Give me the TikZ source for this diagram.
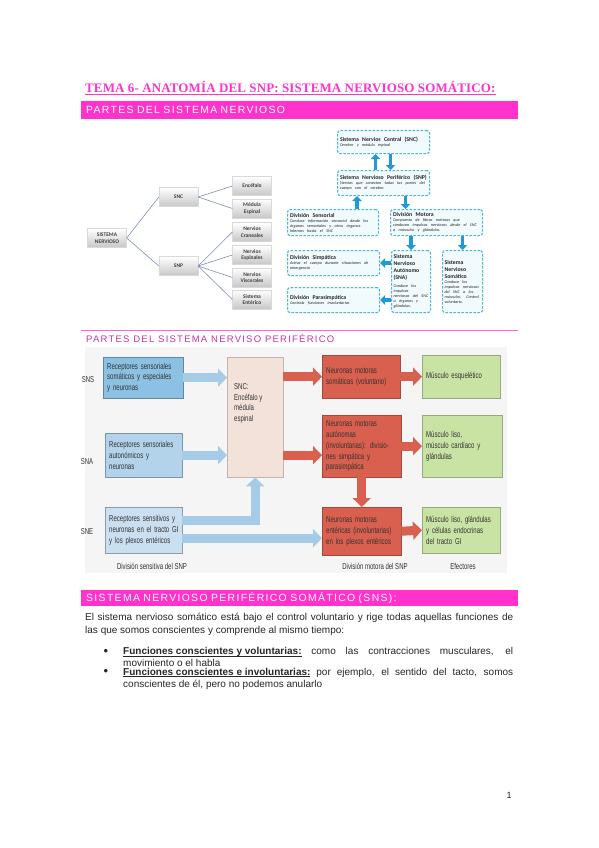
\documentclass[tikz,border=0pt]{standalone}
\usepackage{fontspec}
\setmainfont{Liberation Sans}
\newfontfamily\titlefont{Liberation Serif}
\newfontfamily\calfont{Carlito}
\newfontfamily\narrowfont{Liberation Sans}[FakeStretch=0.7]
\usetikzlibrary{arrows.meta,positioning,shadows}

\definecolor{pinkmain}{HTML}{FF33CC}
\definecolor{pinkdark}{HTML}{C8359F}
\definecolor{pinkline}{HTML}{FF66CC}
\definecolor{fcline}{HTML}{4AB6D6}
\definecolor{fcfill}{HTML}{F1FAFC}
\definecolor{fcarrowc}{HTML}{1F9AD6}
\definecolor{treeedge}{HTML}{7D90B3}
\definecolor{blueA}{HTML}{8CC1E3}
\definecolor{blueB}{HTML}{B3D3EB}
\definecolor{blueC}{HTML}{CADFF0}
\definecolor{arrowblue}{HTML}{A5CBE7}
\definecolor{cnsfill}{HTML}{F2E2DA}
\definecolor{redfill}{HTML}{D9604F}
\definecolor{greenfill}{HTML}{C9E3A5}

\newcommand\headfont{\fontsize{10.4}{12}\selectfont\addfontfeature{LetterSpace=13}}
\newcommand\subheadfont{\fontsize{9.5}{11}\selectfont\addfontfeature{LetterSpace=13}}
\newcommand\snpfont{\narrowfont\fontsize{8.6}{10.8}\selectfont\hyphenpenalty10000\relax}
\newcommand\fctitle[1]{{\bfseries\fontsize{5.8}{7}\selectfont #1\par}}
\newcommand\fcdesc[1]{{\itshape\fontsize{4.2}{5}\selectfont #1\par}}
\newcommand\ulbold[1]{\setbox0\hbox{\bfseries #1}\rlap{\rule[-1.6pt]{\wd0}{0.6pt}}\box0\relax}

\tikzset{
  titletext/.style={anchor=west, inner sep=0pt, text=pinkmain,
    font=\titlefont\bfseries\fontsize{13}{15}\selectfont\addfontfeature{LetterSpace=1}},
  banner/.style={anchor=north west, fill=pinkmain, text=white, minimum width=437pt,
    text width=427pt, inner xsep=5pt, inner ysep=0pt, align=left, font=\headfont},
  subhead/.style={anchor=west, inner sep=0pt, text=pinkdark, font=\subheadfont},
  treebox/.style={rectangle, minimum width=39pt, minimum height=19pt, inner sep=1pt,
    align=center, top color=white, bottom color=black!22, draw=black!15, line width=0.3pt,
    drop shadow={shadow xshift=0.8pt, shadow yshift=-0.8pt, opacity=0.3},
    text=black!75, font=\calfont\bfseries\fontsize{5.5}{6.6}\selectfont},
  treeline/.style={draw=treeedge, line width=0.6pt},
  fcbox/.style={anchor=north west, rectangle, rounded corners=2.5pt, draw=fcline, fill=fcfill,
    line width=1.1pt, dash pattern=on 2.5pt off 1.5pt, inner sep=2.5pt, align=left,
    text=black!85, font=\calfont},
  fcarrow/.style={draw=fcarrowc, line width=3.2pt, -{Triangle[length=5pt,width=9.5pt]}},
  snpbox/.style={anchor=north west, rectangle, inner xsep=4pt, inner ysep=2pt, align=left,
    text=black!80, line width=0.4pt, font=\snpfont,
    drop shadow={shadow xshift=1pt, shadow yshift=-1pt, opacity=0.25}},
  bluebox/.style={snpbox, fill=#1, draw=#1!70!black},
  redbox/.style={snpbox, fill=redfill, draw=redfill!75!black},
  greenbox/.style={snpbox, fill=greenfill, draw=greenfill!75!black},
  bigarrow/.style={line width=9pt, -{Triangle[length=9pt,width=18pt]}},
  bluearrow/.style={bigarrow, draw=arrowblue},
  redarrow/.style={bigarrow, draw=redfill},
  sidelabel/.style={inner sep=0pt, text=black!80, font=\snpfont},
  bodytext/.style={anchor=north west, inner sep=0pt, align=justify, text=black!85,
    font=\fontsize{10}{13.5}\selectfont},
  itemtext/.style={bodytext, text width=390pt, font=\fontsize{10}{12}\selectfont},
  bulletmark/.style={anchor=base, inner sep=0pt, text=black!85, font=\fontsize{13}{14}\selectfont},
}

\begin{document}
\begin{tikzpicture}[x=1pt,y=-1pt]
  \useasboundingbox[fill=white] (0,0) rectangle (599,848);

  % title and first banner
  \node[titletext] (ttl) at (85,87) {TEMA 6- ANATOMÍA DEL SNP: SISTEMA NERVIOSO SOMÁTICO:};
  \draw[pinkmain, line width=0.8pt] ([yshift=-2pt]ttl.base west) -- ([yshift=-2pt]ttl.base east);
  \node[banner, minimum height=18pt] (ban1) at (81,101) {PARTES DEL SISTEMA NERVIOSO};

  % tree
  \node[treebox] (sn) at (107,238) {SISTEMA\\NERVIOSO};
  \node[treebox] (snc) at (178.5,197) {SNC};
  \node[treebox] (snp) at (178.5,266) {SNP};
  \node[treebox] (enc) at (252,186) {Encéfalo};
  \node[treebox] (med) at (252,208.5) {Médula\\Espinal};
  \node[treebox] (cra) at (252,232) {Nervios\\Craneales};
  \node[treebox] (esp) at (252,255) {Nervios\\Espinales};
  \node[treebox] (vis) at (252,277.5) {Nervios\\Viscerales};
  \node[treebox] (ent) at (252,299.5) {Sistema\\Entérico};
  \foreach \a/\b in {sn/snc, sn/snp, snc/enc, snc/med, snp/cra, snp/esp, snp/vis, snp/ent}
    \draw[treeline] (\a.east) -- (\b.west);

  % flowchart
  \node[fcbox, text width=87pt, minimum height=23pt] (fcsnc) at (337,130)
    {\fctitle{Sistema Nervios Central (SNC)}\fcdesc{Cerebro y médula espinal}};
  \node[fcbox, text width=87pt, minimum height=25pt] (fcsnp) at (337,170)
    {\fctitle{Sistema Nervioso Periférico (SNP)}\fcdesc{Nervios que conectan todas las partes del\\cuerpo con el cerebro}};
  \node[fcbox, text width=86pt, minimum height=26pt] (sens) at (287,209)
    {\fctitle{División Sensorial}\fcdesc{Conduce información sensorial desde los\\órganos sensoriales y otros órganos\\internos hasta el SNC}};
  \node[fcbox, text width=87pt, minimum height=26pt] (mot) at (390,209)
    {\fctitle{División Motora}\fcdesc{Compuesta de fibras motoras que\\conducen impulsos nerviosos desde el SNC\\a músculos y glándulas.}};
  \node[fcbox, text width=87pt, minimum height=25pt] (simp) at (287,250)
    {\fctitle{División Simpática}\fcdesc{Activa el cuerpo durante situaciones de\\emergencia}};
  \node[fcbox, text width=87pt, minimum height=25pt] (para) at (287,287)
    {\fctitle{División Parasimpática}\fcdesc{Controla funciones involuntarias}};
  \node[fcbox, text width=35pt, inner xsep=2pt, minimum height=62pt] (sna) at (391,250)
    {\fctitle{Sistema\\Nervioso\\Autónomo\\(SNA)}\vspace{3pt}\fcdesc{Conduce los\\impulsos\\\mbox{nerviosos del SNC}\\a órganos y\\glándulas.}};
  \node[fcbox, text width=36pt, inner xsep=2pt, minimum height=62pt] (som) at (442,250)
    {\fctitle{Sistema\\Nervioso\\Somático}\fcdesc{Conduce los\\\mbox{impulsos nerviosos}\\del SNC a los\\\mbox{músculos. Control}\\voluntario.}};
  \draw[fcarrow] ([xshift=-8pt]fcsnp.north) -- ([xshift=-8pt]fcsnc.south);
  \draw[fcarrow] ([xshift=7pt]fcsnc.south) -- ([xshift=7pt]fcsnp.north);
  \draw[fcarrow] ([xshift=24pt]sens.north) -- ([xshift=24pt]sens.north |- fcsnp.south);
  \draw[fcarrow] ([xshift=22pt]fcsnp.south) -- ([xshift=22pt]fcsnp.south |- mot.north);
  \draw[fcarrow] (mot.south -| sna.north) -- (sna.north);
  \draw[fcarrow] (mot.south -| som.north) -- (som.north);
  \draw[fcarrow] (sna.west |- simp.east) -- (simp.east);
  \draw[fcarrow] (sna.west |- para.east) -- (para.east);

  % second section
  \draw[pinkline, line width=1pt] (81,330) -- (518,330);
  \node[subhead] (head2) at (86,338) {PARTES DEL SISTEMA NERVISO PERIFÉRICO};
  \fill[black!4] (85,347) rectangle (507,573);

  \node[bluebox=blueA, minimum width=80pt, text width=72pt, minimum height=41pt] (b1) at (103,357)
    {Receptores sensoriales\\somáticos y especiales\\y neuronas};
  \node[bluebox=blueB, minimum width=77pt, text width=69pt, minimum height=44pt] (b2) at (105,433)
    {Receptores sensoriales\\autonómicos y\\neuronas};
  \node[bluebox=blueC, minimum width=77pt, text width=69pt, minimum height=46pt] (b3) at (105,507)
    {\mbox{Receptores sensitivos y}\\\mbox{neuronas en el tracto GI}\\\mbox{y los plexos entéricos}};
  \node[snpbox, fill=cnsfill, draw=cnsfill!80!black, minimum width=56pt, minimum height=120pt] (cns) at (227,357) {};
  \node[sidelabel, anchor=north west, align=left] (cnstxt) at ([shift={(7pt,-26pt)}]cns.north west)
    {SNC:\\Encéfalo y\\médula\\espinal};
  \node[redbox, minimum width=78pt, text width=70pt, minimum height=43pt] (r1) at (322,355)
    {Neuronas motoras\\somáticas (voluntario)};
  \node[redbox, minimum width=79pt, text width=71pt, minimum height=62pt] (r2) at (322,415)
    {Neuronas motoras\\autónomas\\(involuntarias): divisio-\\nes simpática y\\parasimpática};
  \node[redbox, minimum width=79pt, text width=71pt, minimum height=48pt] (r3) at (322,507)
    {Neuronas motoras\\entéricas (involuntarias)\\en los plexos entéricos};
  \node[greenbox, minimum width=78pt, text width=70pt, minimum height=43pt] (g1) at (422,355)
    {Músculo esquelético};
  \node[greenbox, minimum width=80pt, text width=72pt, minimum height=62pt] (g2) at (422,415)
    {Músculo liso,\\músculo cardíaco y\\glándulas};
  \node[greenbox, minimum width=78pt, text width=70pt, minimum height=46pt] (g3) at (422,507)
    {Músculo liso, glándulas\\y células endocrinas\\del tracto GI};

  \draw[bluearrow] (b1.east) -- (b1.east -| cns.west);
  \draw[bluearrow] (b2.east) -- (b2.east -| cns.west);
  \draw[bluearrow] ([yshift=10pt]b3.east) -| (cns.south);
  \draw[bluearrow] ([yshift=-8pt]b3.east) -- ([yshift=-8pt]b3.east -| r3.west);
  \draw[redarrow] (r1.west -| cns.east) -- (r1.west);
  \draw[redarrow] (cns.east |- b2.east) -- (r2.west |- b2.east);
  \draw[redarrow] (r1.east) -- (g1.west);
  \draw[redarrow] (r2.east) -- (g2.west);
  \draw[redarrow] (r3.east) -- (g3.west);
  \draw[redarrow] (r2.south) -- (r3.north);

  \node[sidelabel] (lsns) at (88,380) {SNS};
  \node[sidelabel] (lsna) at (87,462) {SNA};
  \node[sidelabel] (lsne) at (87,532) {SNE};
  \node[sidelabel] (lsens) at (152,566) {División sensitiva del SNP};
  \node[sidelabel] (lmot) at (375,566) {División motora del SNP};
  \node[sidelabel] (lefe) at (463,566) {Efectores};

  % third section
  \node[banner, minimum height=16pt] (ban2) at (81,590) {SISTEMA NERVIOSO PERIFÉRICO SOMÁTICO (SNS):};
  \node[bodytext, text width=428pt] (par) at (85,612.5)
    {El sistema nervioso somático está bajo el control voluntario y rige todas aquellas funciones de\linebreak las que somos conscientes y comprende al mismo tiempo:};
  \node[itemtext] (it1) at (123,647.5)
    {\ulbold{Funciones conscientes y voluntarias:} como las contracciones musculares, el\linebreak movimiento o el habla};
  \node[itemtext] (it2) at (123,668)
    {\ulbold{Funciones conscientes e involuntarias:} por ejemplo, el sentido del tacto, somos\linebreak conscientes de él, pero no podemos anularlo};
  \node[bulletmark] (bul1) at (106,655) {\textbullet};
  \node[bulletmark] (bul2) at (106,675.5) {\textbullet};

  \node[anchor=base, inner sep=0pt, text=black!85, font=\fontsize{9}{11}\selectfont] (pnum) at (509,798) {1};
\end{tikzpicture}
\end{document}
